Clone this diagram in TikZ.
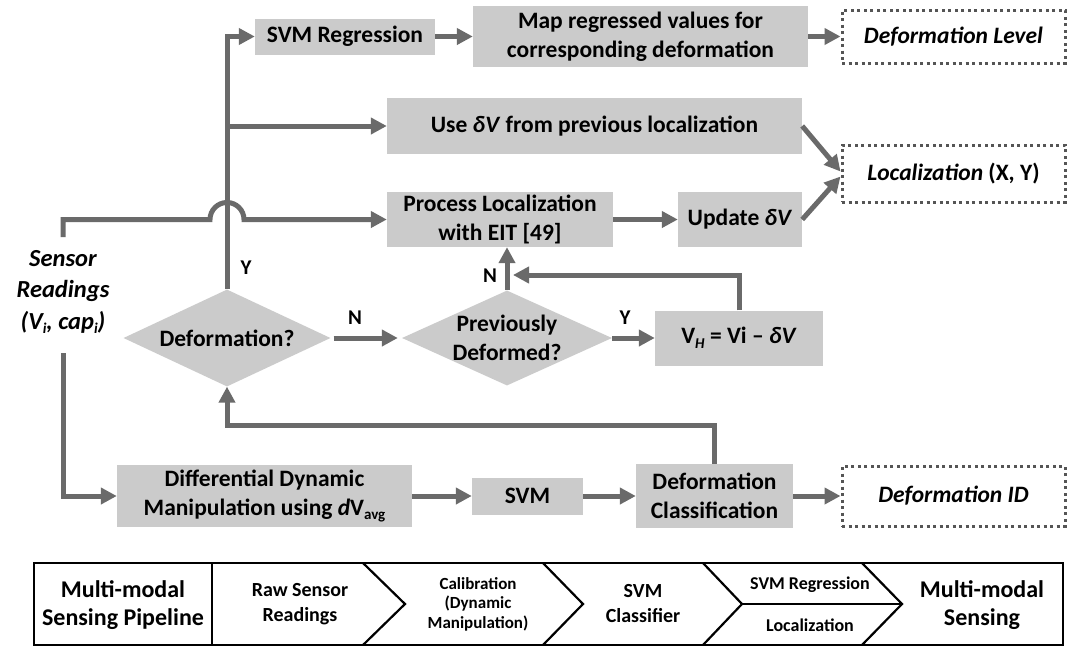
\documentclass[tikz,border=0pt]{standalone}
\usepackage{fontspec}
\setmainfont{Carlito}
\usetikzlibrary{arrows.meta,shapes.geometric}
\definecolor{boxgray}{HTML}{CBCBCB}
\definecolor{linegray}{HTML}{6A6A6A}
\definecolor{dotgray}{HTML}{555555}
\newcommand{\subsc}[1]{\raisebox{-0.4ex}{\fontsize{15}{15}\selectfont #1}}
\begin{document}
\begin{tikzpicture}[x=1pt,y=-1pt,
  flow/.style={font=\fontsize{23.5}{29}\selectfont\bfseries},
  box/.style={fill=boxgray, inner sep=0pt, align=center, flow},
  dia/.style={diamond, fill=boxgray, inner sep=0pt},
  term/.style={draw=dotgray, line width=3pt, dash pattern=on 3pt off 3.5pt, inner sep=0pt, align=center, flow},
  arr/.style={draw=linegray, line width=5pt, -{Triangle[length=16pt,width=16pt]}},
  lab/.style={font=\fontsize{21}{21}\selectfont\bfseries},
  pipe/.style={draw=black, line width=2.2pt},
  pbig/.style={font=\fontsize{24}{28}\selectfont\bfseries, align=center},
  pmid/.style={font=\fontsize{20}{25}\selectfont\bfseries, align=center},
  psmall/.style={font=\fontsize{17}{19.5}\selectfont\bfseries, align=center},
  preg/.style={font=\fontsize{18}{20}\selectfont\bfseries, align=center}]
\fill[white] (0,0) rectangle (1068,648);
\useasboundingbox (0,0) rectangle (1068,648);

% boxes
\node[box, minimum width=180pt, minimum height=36pt] (svmr) at (345,36.5) {SVM Regression};
\node[box, minimum width=335pt, minimum height=61pt] (map) at (640.5,36.5) {Map regressed values for\\corresponding deformation};
\node[term, minimum width=223pt, minimum height=53pt] (deflev) at (953.5,36.5) {\textit{Deformation Level}};
\node[box, minimum width=415pt, minimum height=56pt] (usedv) at (594.5,126) {Use \textit{δV} from previous localization};
\node[term, minimum width=223pt, minimum height=57pt] (loc) at (953.5,173.5) {\textit{Localization} (X, Y)};
\node[box, minimum width=226pt, minimum height=55pt] (proc) at (500,219.5) {Process Localization\\with EIT [49]};
\node[box, minimum width=124pt, minimum height=55pt] (upd) at (740,219.5) {Update \textit{δV}};
\node[font=\fontsize{24.5}{31.5}\selectfont\bfseries\itshape, align=center] (sensor) at (63,292) {Sensor\\Readings\\(V\subsc{i}, cap\subsc{i})};

\node[dia, minimum width=207pt, minimum height=97pt] (def) at (227,338) {};
\node[flow] (deft) at (def) {Deformation?};
\node[dia, minimum width=210pt, minimum height=95pt] (prev) at (507,338) {};
\node[flow, align=center] (prevt) at (prev) {Previously\\Deformed?};
\node[box, minimum width=168pt, minimum height=55pt] (vh) at (739,338) {V\subsc{\textit{H}} = Vi – \textit{δV}};

\node[box, minimum width=295pt, minimum height=62pt] (diff) at (264.5,496) {Differential Dynamic\\Manipulation using \textit{d}V\subsc{avg}};
\node[box, minimum width=111pt, minimum height=37pt] (svm) at (527.5,496) {SVM};
\node[box, minimum width=157pt, minimum height=64pt] (dcls) at (714.5,496) {Deformation\\Classification};
\node[term, minimum width=223pt, minimum height=60pt] (defid) at (953.5,496) {\textit{Deformation ID}};

% labels
\node[lab] (ly1) at (246,268) {Y};
\node[lab] (ln1) at (355,318) {N};
\node[lab] (ln2) at (490,276) {N};
\node[lab] (ly2) at (625,318) {Y};

% coordinates
\coordinate (sTop) at (63,237);
\coordinate (sBot) at (63,353);
\coordinate (trunkTop) at (227,36.5);
\coordinate (branch) at (227,126);
\coordinate (hopL) at (210,219.5);
\coordinate (loopTurn) at (739,275);
\coordinate (loopEnd) at (513,275);
\coordinate (fbTurn) at (714.5,425);

% connectors
\draw[arr] (sTop) |- (hopL) arc[start angle=180, end angle=360, radius=17] -- (proc.west);
\draw[arr] (def.north) -- (trunkTop) -- (svmr.west);
\draw[arr] (branch) -- (usedv.west);
\draw[arr] (svmr.east) -- (map.west);
\draw[arr] (map.east) -- (deflev.west);
\draw[arr] (usedv.east) -- ([yshift=2pt]loc.west);
\draw[arr] (upd.east) -- ([yshift=-3pt]loc.west);
\draw[arr] (proc.east) -- (upd.west);
\draw[arr] (prev.north) -- (prev.north |- proc.south);
\draw[arr] (vh.north) -- (loopTurn) -- (loopEnd);
\draw[arr] ([xshift=3pt]def.east) -- ([xshift=-4pt]prev.west);
\draw[arr] (prev.east) -- (vh.west);
\draw[arr] (dcls.north) -- (fbTurn) -| (def.south);
\draw[arr] (sBot) |- (diff.west);
\draw[arr] (diff.east) -- (svm.west);
\draw[arr] (svm.east) -- (dcls.west);
\draw[arr] (dcls.east) -- (defid.west);

% pipeline
\draw[pipe] (34,563) rectangle (1063,645);
\draw[pipe] (212,563) -- (212,645);
\draw[pipe] (363,563) -- (405,604) -- (363,645);
\draw[pipe] (543,563) -- (583,604) -- (543,645);
\draw[pipe] (703,563) -- (742,604) -- (703,645);
\draw[pipe] (862,563) -- (902,604) -- (862,645);
\draw[pipe] (742,604) -- (902,604);
\node[pbig] (p1) at (123,605) {Multi-modal\\Sensing Pipeline};
\node[pmid] (p2) at (300,604) {Raw Sensor\\Readings};
\node[psmall] (p3) at (478,604) {Calibration\\(Dynamic\\Manipulation)};
\node[pmid] (p4) at (643,604) {SVM\\Classifier};
\node[preg] (p5) at (810,585) {SVM Regression};
\node[preg] (p6) at (810,625) {Localization};
\node[pbig] (p7) at (982,605) {Multi-modal\\Sensing};
\end{tikzpicture}
\end{document}
